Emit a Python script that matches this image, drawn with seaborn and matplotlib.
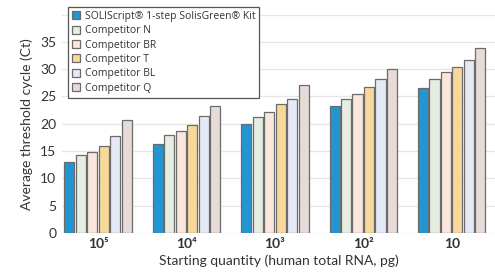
import pandas as pd
import matplotlib
matplotlib.use("Agg")
import matplotlib.pyplot as plt
import seaborn as sns

quantities = ["10⁵", "10⁴", "10³", "10²", "10"]
kits = ["SOLIScript® 1-step SolisGreen® Kit", "Competitor N", "Competitor BR",
        "Competitor T", "Competitor BL", "Competitor Q"]
soli = [12.9, 16.3, 19.9, 23.3, 26.6]
comp_n = [14.3, 18.0, 21.3, 24.6, 28.2]
comp_br = [14.9, 18.6, 22.1, 25.5, 29.5]
comp_t = [16.0, 19.7, 23.6, 26.8, 30.4]
comp_bl = [17.8, 21.5, 24.6, 28.1, 31.6]
comp_q = [20.6, 23.2, 27.0, 30.1, 33.8]
colors = ["#2196D3", "#E6EDE3", "#FBE6DD", "#F8D89A", "#E6E9F6", "#E6DBD7"]

rows = []
for kit, vals in zip(kits, [soli, comp_n, comp_br, comp_t, comp_bl, comp_q]):
    for q, v in zip(quantities, vals):
        rows.append({"quantity": q, "kit": kit, "ct": v})
df = pd.DataFrame(rows)

sns.set_style("white")
plt.rcParams["font.family"] = ["Lato", "DejaVu Sans"]

fig = plt.figure(figsize=(4.95, 2.74), dpi=100)
ax = fig.add_axes([0.125, 0.15, 0.875, 0.797])

sns.barplot(data=df, x="quantity", y="ct", hue="kit", palette=colors,
            width=0.78, gap=0.12, edgecolor="#6b6b6b", linewidth=0.9,
            saturation=1, ax=ax, zorder=3)

ax.set_ylim(0, 40)
ax.set_xlim(-0.41, 4.49)
ax.set_yticks(range(0, 45, 5))
ax.set_yticklabels([str(t) for t in range(0, 40, 5)] + [""])
ax.yaxis.grid(True, color="#e6e6e6", linewidth=0.9, zorder=0)
ax.set_axisbelow(True)
for s in ax.spines.values():
    s.set_visible(False)
ax.tick_params(axis="both", length=0, labelsize=10, colors="#333333", pad=4)
for lbl in ax.get_xticklabels():
    lbl.set_fontweight("bold")
ax.set_xlabel("Starting quantity (human total RNA, pg)", fontsize=10, color="#333333", labelpad=3)
ax.set_ylabel("Average threshold cycle (Ct)", fontsize=10, color="#333333", labelpad=5)

leg = ax.legend(loc="upper left", bbox_to_anchor=(0.014, 1.035),
                prop={"family": ["Open Sans", "DejaVu Sans"], "size": 7.5},
                frameon=True, framealpha=1, fancybox=False, borderpad=0.4,
                labelspacing=0.32, handlelength=0.8, handleheight=0.8,
                handletextpad=0.4, borderaxespad=0)
leg.get_frame().set_edgecolor("#555555")
leg.get_frame().set_linewidth(0.9)
for t in leg.get_texts():
    t.set_color("#333333")

fig.savefig("out.png", dpi=100)
